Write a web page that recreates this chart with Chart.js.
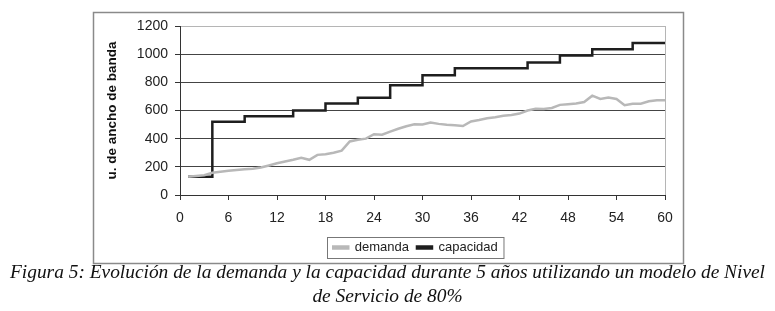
<!DOCTYPE html>
<html>
<head>
<meta charset="utf-8">
<script src="https://cdn.jsdelivr.net/npm/chart.js@4"></script>
<style>
  body { margin:0; background:#fff; width:775px; height:311px; overflow:hidden; position:relative; }
  #wrap { position:absolute; left:0; top:0; width:775px; height:265px; }
  .caption { position:absolute; left:0; width:775px; text-align:center; white-space:nowrap;
    font-family:"Liberation Serif", serif; font-style:italic; font-size:19.4px; color:#111; }
</style>
</head>
<body>
<div id="wrap"><canvas id="chart" width="775" height="265"></canvas></div>
<div class="caption" style="top:261px">Figura 5: Evolución de la demanda y la capacidad durante 5 años utilizando un modelo de Nivel</div>
<div class="caption" style="top:285px">de Servicio de 80%</div>
<script>
// months 1..60
const months = [1,2,3,4,5,6,7,8,9,10,11,12,13,14,15,16,17,18,19,20,
  21,22,23,24,25,26,27,28,29,30,31,32,33,34,35,36,37,38,39,40,
  41,42,43,44,45,46,47,48,49,50,51,52,53,54,55,56,57,58,59,60];

// demand
const demanda = [130,135,140,158,165,172,178,182,186,195,
  210,225,238,250,265,250,285,290,300,315,
  380,392,400,432,428,450,470,488,502,500,
  515,505,498,495,490,522,532,545,552,562,
  568,578,600,612,610,618,640,645,650,660,
  705,682,692,682,638,648,648,665,672,672];

// capacity, a step function
const capacidad = [130,130,130,520,520,520,520,560,560,560,
  560,560,560,600,600,600,600,650,650,650,
  650,690,690,690,690,780,780,780,780,850,
  850,850,850,900,900,900,900,900,900,900,
  900,900,940,940,940,940,990,990,990,990,
  1035,1035,1035,1035,1035,1080,1080,1080,1080,1080];

const xTicks = [0,6,12,18,24,30,36,42,48,54,60];
const yTicks = [0,200,400,600,800,1000,1200];

const pts = arr => arr.map((v, i) => ({x: months[i], y: v}));

// outer frame + plot border + legend box
const framePlugin = {
  id: 'frame',
  afterLayout(chart) {
    // centre legend under the plot area, not the whole canvas
    const lg = chart.legend, a = chart.chartArea;
    const dx = (a.left + a.right) / 2 - (lg.left + lg.right) / 2 - 7;
    lg.left += dx; lg.right += dx;
  },
  beforeDraw(chart) {
    const c = chart.ctx;
    c.save();
    c.fillStyle = '#fff';
    c.fillRect(0, 0, chart.width, chart.height);
    c.strokeStyle = '#8a8a8a';
    c.lineWidth = 1.5;
    c.strokeRect(93.5, 12.5, 590, 251);
    c.restore();
  },
  afterDraw(chart) {
    const c = chart.ctx, a = chart.chartArea;
    c.save();
    c.strokeStyle = '#b5b5b5';
    c.lineWidth = 1;
    c.beginPath();
    c.moveTo(a.right + 0.5, a.top);
    c.lineTo(a.right + 0.5, a.bottom);
    c.stroke();
    const hb = chart.legend.legendHitBoxes;
    if (hb && hb.length) {
      const l = hb[0].left - 6, r = hb[hb.length-1].left + hb[hb.length-1].width + 6;
      const t = hb[0].top - 4, b = hb[0].top + hb[0].height + 4;
      c.strokeStyle = '#777';
      c.strokeRect(Math.round(l) + 0.5, Math.round(t) + 0.5, r - l, b - t);
    }
    c.restore();
  }
};

new Chart(document.getElementById('chart'), {
  type: 'line',
  data: {
    datasets: [{
      label: 'demanda',
      data: pts(demanda),
      borderColor: '#b8b8b8',
      backgroundColor: '#b8b8b8',
      borderWidth: 2.5,
      pointRadius: 0,
      tension: 0
    }, {
      label: 'capacidad',
      data: pts(capacidad),
      borderColor: '#1e1e1e',
      backgroundColor: '#1e1e1e',
      borderWidth: 2.5,
      pointRadius: 0,
      stepped: 'before'
    }]
  },
  options: {
    responsive: false,
    animation: false,
    layout: { padding: { left: 104, right: 110, top: 26, bottom: 1 } },
    scales: {
      x: {
        type: 'linear', min: 0, max: 60,
        afterBuildTicks: s => { s.ticks = xTicks.map(v => ({value: v})); },
        afterFit: s => { s.height = 38; },
        grid: { drawOnChartArea: false, drawTicks: true, tickLength: 5, color: '#333' },
        border: { color: '#333', width: 1 },
        ticks: { color: '#222', font: { family: 'Liberation Sans', size: 14 }, padding: 10, maxRotation: 0,
          callback: v => String(v) }
      },
      y: {
        min: 0, max: 1200,
        afterBuildTicks: s => { s.ticks = yTicks.map(v => ({value: v})); },
        afterFit: s => { s.width = 76; },
        grid: { color: c => c.tick && c.tick.value === 1200 ? '#b5b5b5' : '#444', tickLength: 5, tickColor: '#333' },
        border: { color: '#333', width: 1 },
        ticks: { color: '#222', font: { family: 'Liberation Sans', size: 14 }, padding: 7,
          callback: v => String(v) },
        title: { display: true, text: 'u. de ancho de banda', color: '#111',
          font: { family: 'Liberation Sans', size: 13.5, weight: 'bold' }, padding: 0 }
      }
    },
    plugins: {
      legend: {
        position: 'bottom',
        labels: { color: '#222', font: { family: 'Liberation Sans', size: 13 },
          boxWidth: 15, boxHeight: 2, padding: 8 }
      },
      tooltip: { enabled: false }
    }
  },
  plugins: [framePlugin]
});
</script>
</body>
</html>
